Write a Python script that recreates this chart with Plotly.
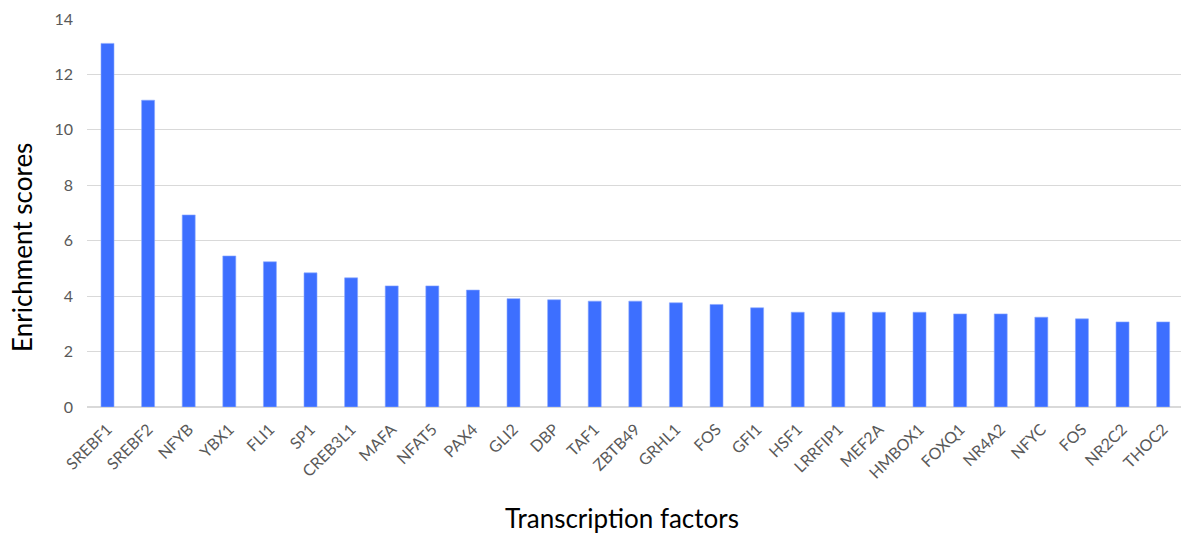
import plotly.graph_objects as go

factors = ["SREBF1", "SREBF2", "NFYB", "YBX1", "FLI1", "SP1", "CREB3L1", "MAFA",
           "NFAT5", "PAX4", "GLI2", "DBP", "TAF1", "ZBTB49", "GRHL1", "FOS", "GFI1",
           "HSF1", "LRRFIP1", "MEF2A", "HMBOX1", "FOXQ1", "NR4A2", "NFYC", "FOS",
           "NR2C2", "THOC2"]
scores = [13.12, 11.07, 6.93, 5.45, 5.24, 4.84, 4.66, 4.37, 4.37, 4.22, 3.91, 3.87,
          3.82, 3.82, 3.76, 3.70, 3.58, 3.42, 3.42, 3.42, 3.42, 3.36, 3.36, 3.24,
          3.18, 3.07, 3.07]
y_ticks = [0, 2, 4, 6, 8, 10, 12, 14]
x_title = "Transcription factors"
y_title = "Enrichment scores"

positions = list(range(len(factors)))

fig = go.Figure(go.Bar(
    x=positions, y=scores, width=0.32,
    marker=dict(color="#3d6fff", line=dict(color="#8aa8ff", width=0.6)),
))

fig.update_layout(
    width=1181, height=536,
    margin=dict(l=87, r=0, t=19, b=129),
    paper_bgcolor="white", plot_bgcolor="white",
    font=dict(family="Lato, Open Sans, sans-serif", color="#595959"),
    showlegend=False,
    xaxis=dict(
        range=[-0.505, 26.44], automargin=False,
        tickmode="array", tickvals=positions, ticktext=factors,
        tickangle=-45, tickfont=dict(size=16, color="#595959"),
        showgrid=False, zeroline=False, showline=False, ticks="",
        ticklabelstandoff=9,
    ),
    yaxis=dict(
        range=[0, 14], automargin=False, tickmode="array", tickvals=y_ticks,
        tickfont=dict(size=16, color="#595959"),
        showgrid=True, gridcolor="#d9d9d9", gridwidth=1,
        zeroline=True, zerolinecolor="#d9d9d9", zerolinewidth=1.5,
        showline=False, ticks="", ticklabelstandoff=13,
    ),
    annotations=[
        dict(text=x_title, xref="paper", yref="paper", x=0.489, y=-0.285,
             xanchor="center", yanchor="middle", showarrow=False,
             font=dict(size=26, color="#000000")),
        dict(text=y_title, xref="paper", yref="paper", x=-0.0594, y=0.41,
             xanchor="center", yanchor="middle", showarrow=False, textangle=-90,
             font=dict(size=26, color="#000000")),
    ],
)

fig.write_html(
    "out.html",
    config={"displayModeBar": False},
    post_script="document.body.style.margin='0';document.body.style.overflow='hidden';",
)
